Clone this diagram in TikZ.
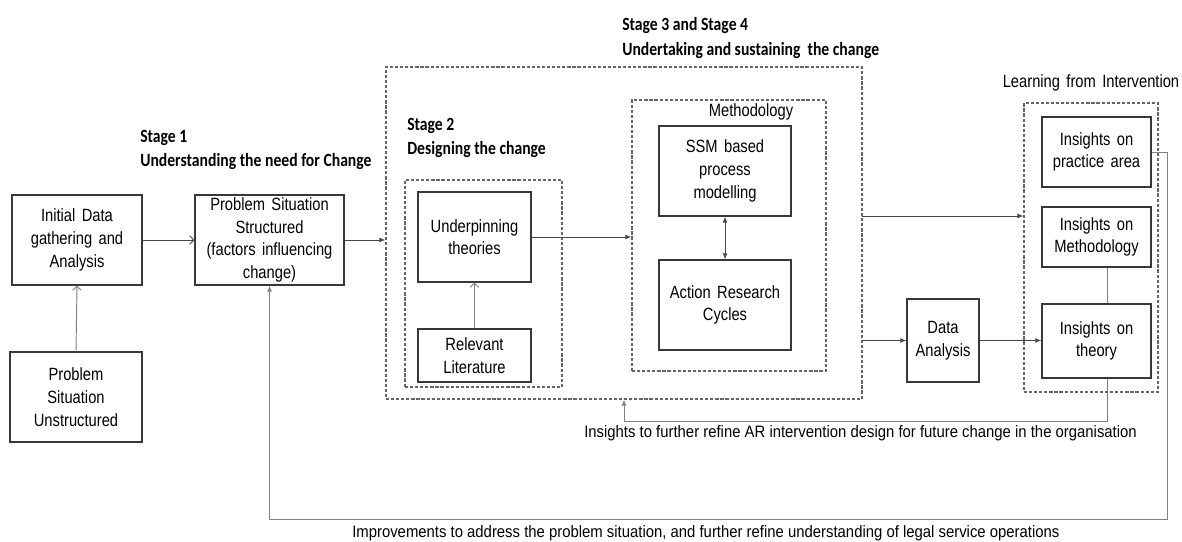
\documentclass[tikz,border=0pt]{standalone}
\usepackage{fontspec}
\setmainfont{Liberation Sans}[FakeStretch=0.83]
\newfontfamily\capfam{Liberation Sans}[FakeStretch=0.9]
\newfontfamily\headfont{Carlito}[FakeStretch=0.84]
\usetikzlibrary{arrows.meta,calc}

\newcommand\boxfont{\fontsize{13.3}{17}\selectfont\spaceskip=0.36em plus 0.1em}
\newcommand\capfont{\capfam\fontsize{12.4}{15}\selectfont}

\tikzset{
  sz/.style 2 args={minimum width=#1*0.75pt, minimum height=#2*0.75pt},
  box/.style={draw=black!78, line width=0.9pt, inner sep=0pt, align=center, font=\boxfont},
  grp/.style={draw=black!60, line width=0.8pt, dash pattern=on 2.4pt off 1.4pt, inner sep=0pt},
  head/.style={anchor=west, align=left, inner sep=0pt,
    font=\headfont\bfseries\fontsize{14}{18.5}\selectfont},
  lbltext/.style={inner sep=0pt, font=\boxfont},
  captext/.style={anchor=west, inner sep=0pt, font=\capfont},
  link/.style={draw=black!72, line width=0.7pt},
  fb/.style={draw=black!50, line width=0.7pt},
  solidtip/.style={-{Latex[length=4.5pt,width=3.6pt]}},
  bothtips/.style={{Latex[length=4.5pt,width=3.6pt]}-{Latex[length=4.5pt,width=3.6pt]}},
  opentip/.style={-{Straight Barb[length=3pt,width=6.5pt]}},
}

\begin{document}
\begin{tikzpicture}[x=0.75pt,y=-0.75pt]
  \useasboundingbox (0,0) rectangle (1182,542);

  % headings
  \node[head] (h1) at (140,150) {Stage 1\\Understanding the need for Change};
  \node[head] (h2) at (407,138) {Stage 2\\Designing the change};
  \node[head] (h3) at (622,38) {Stage 3 and Stage 4\\Undertaking and sustaining\ \ the change};

  % stage 1
  \node[box, sz={130}{90}] (init) at (77,240) {Initial Data\\gathering and\\Analysis};
  \node[box, sz={132}{90}] (unstr) at (76,397) {Problem\\Situation\\Unstructured};
  \node[box, sz={149}{90}] (struct) at (269.5,240) {Problem Situation\\Structured\\(factors influencing\\change)};

  % stages 2 to 4
  \node[grp, sz={476}{332}] (s34) at (624,233) {};
  \node[grp, sz={157}{207}] (s2) at (483.5,283.5) {};
  \node[box, sz={113}{90}] (under) at (474.5,237) {Underpinning\\theories};
  \node[box, sz={113}{53}] (relit) at (474.5,355.5) {Relevant\\Literature};

  \node[grp, sz={194}{271}] (meth) at (729,235.5) {};
  \node[lbltext] (methlbl) at (751,112) {Methodology};
  \node[box, sz={132}{90}] (ssm) at (725,171) {SSM based\\process\\modelling};
  \node[box, sz={132}{90}] (arc) at (725,305) {Action Research\\Cycles};

  \node[box, sz={72}{83}] (data) at (943,340.5) {Data\\Analysis};

  % learning
  \node[grp, sz={134}{289}] (learn) at (1091,247.5) {};
  \node[lbltext] (learnlbl) at (1091,83) {Learning\ from\ Intervention};
  \node[box, sz={109}{70}] (ip) at (1096.5,152) {Insights on\\practice area};
  \node[box, sz={109}{60}] (im) at (1096.5,237) {Insights on\\Methodology};
  \node[box, sz={109}{74}] (it) at (1096.5,341) {Insights on\\theory};

  % captions of the feedback loops
  \node[captext] (c1) at (584,433) {Insights to further refine AR intervention design for future change in the organisation};
  \node[captext] (c2) at (352,533) {Improvements to address the problem situation, and further refine understanding of legal service operations};

  % helper coordinates
  \coordinate (lx) at (1107,0);
  \coordinate (o1) at (862,216);
  \coordinate (fbk) at (624,421);
  \coordinate (bl) at (1167,519);

  % connectors
  \draw[fb, opentip] (unstr.north) -- (init.south);
  \draw[link, opentip] (init.east) -- (struct.west);
  \draw[link, solidtip] (struct.east) -- (struct.east -| s34.west);
  \draw[fb, opentip] (relit.north) -- (under.south);
  \draw[link, solidtip] (under.east) -- (under.east -| meth.west);
  \draw[link, bothtips] (ssm.south) -- (arc.north);
  \draw[link, solidtip] (o1) -- (o1 -| learn.west);
  \draw[link, solidtip] (data.west -| s34.east) -- (data.west);
  \draw[link, solidtip] (data.east) -- (data.east -| it.west);
  \draw[fb] (im.south -| lx) -- (it.north -| lx);
  \draw[fb, solidtip] (it.south -| lx) |- (fbk) -- (fbk |- s34.south);
  \draw[fb, solidtip] (ip.east) -| (bl) -| (struct.south);
\end{tikzpicture}
\end{document}
